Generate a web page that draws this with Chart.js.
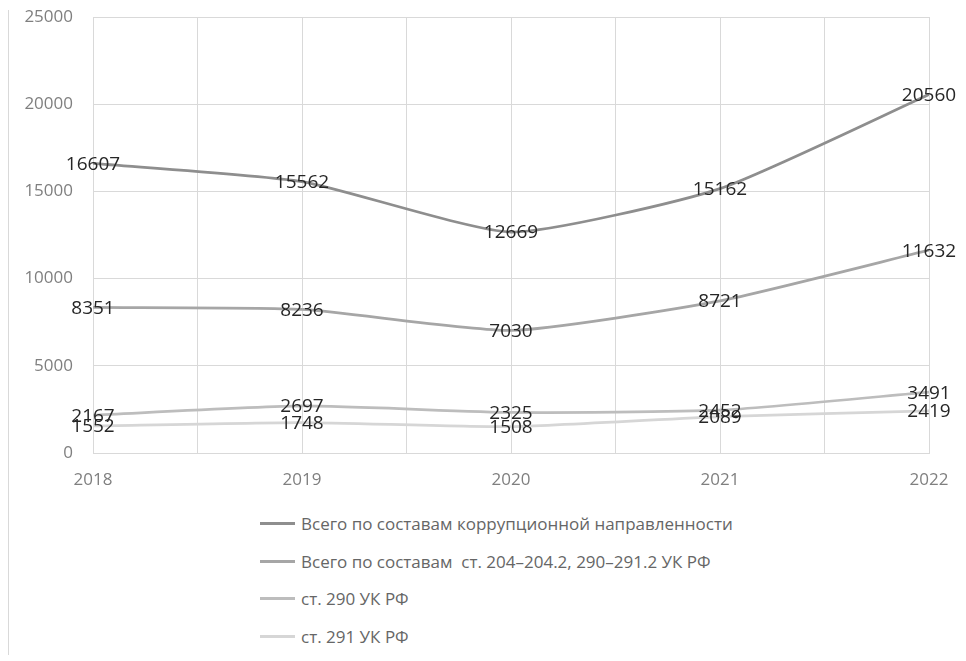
<!DOCTYPE html>
<html lang="ru">
<head>
<meta charset="utf-8">
<title>Преступления коррупционной направленности, 2018–2022</title>
<script src="https://cdn.jsdelivr.net/npm/chart.js@4/dist/chart.umd.min.js"></script>
<style>
    html, body {
        margin: 0;
        padding: 0;
        background: #ffffff;
    }
    .frame {
        position: relative;
        width: 966px;
        height: 661px;
        overflow: hidden;
    }
    .frame-edge {
        position: absolute;
        left: 8px;
        top: 10px;
        width: 1px;
        height: 645px;
        background: #d9d9d9;
    }
    .chart-box {
        position: absolute;
        left: 0;
        top: 0;
        width: 966px;
        height: 500px;
    }
    .legend {
        position: absolute;
        left: 260px;
        top: 505px;
        font-family: 'Open Sans', sans-serif;
        font-size: 17px;
        color: #666666;
    }
    .legend-row {
        display: flex;
        align-items: center;
        height: 37.5px;
        white-space: pre;
    }
    .legend-swatch {
        width: 35px;
        height: 3px;
        margin-right: 6px;
    }
</style>
</head>
<body>
<div class="frame">
    <div class="frame-edge"></div>
    <div class="chart-box"><canvas id="crimeChart"></canvas></div>
    <div class="legend" id="crimeLegend"></div>
</div>

<script>
// Years on the horizontal axis
const years = ['2018', '2019', '2020', '2021', '2022'];

// Registered crimes per year
const totalCorruption = [16607, 15562, 12669, 15162, 20560];
const totalArticles = [8351, 8236, 7030, 8721, 11632];
const article290 = [2167, 2697, 2325, 2452, 3491];
const article291 = [1552, 1748, 1508, 2089, 2419];

const seriesNames = [
    'Всего по составам коррупционной направленности',
    'Всего по составам  ст. 204–204.2, 290–291.2 УК РФ',
    'ст. 290 УК РФ',
    'ст. 291 УК РФ'
];
const seriesColors = ['#8e8e8e', '#a6a6a6', '#bdbdbd', '#d6d6d6'];
const seriesValues = [totalCorruption, totalArticles, article290, article291];

(function() {
    'use strict';

    const gridColor = '#d9d9d9';
    const tickFont = { family: "'Open Sans', sans-serif", size: 17 };

    // Value labels centred on each point, drawn above all lines
    const valueLabels = {
        id: 'valueLabels',
        afterDatasetsDraw(chart) {
            const ctx = chart.ctx;
            ctx.save();
            ctx.font = "19px 'Open Sans', sans-serif";
            ctx.fillStyle = '#262626';
            ctx.textAlign = 'center';
            ctx.textBaseline = 'middle';
            chart.data.datasets.forEach((ds, i) => {
                const meta = chart.getDatasetMeta(i);
                meta.data.forEach((pt, j) => {
                    ctx.fillText(String(ds.data[j].y), pt.x, pt.y + 1);
                });
            });
            ctx.restore();
        }
    };

    function buildDatasets() {
        return seriesValues.map((values, i) => ({
            label: seriesNames[i],
            data: values.map((v, j) => ({ x: j, y: v })),
            borderColor: seriesColors[i],
            backgroundColor: seriesColors[i],
            borderWidth: 2.75,
            pointRadius: 0,
            pointHoverRadius: 0,
            tension: 0.18,
            fill: false
        })).reverse();
    }

    function buildLegend() {
        const box = document.getElementById('crimeLegend');
        seriesNames.forEach((name, i) => {
            const row = document.createElement('div');
            row.className = 'legend-row';
            const swatch = document.createElement('span');
            swatch.className = 'legend-swatch';
            swatch.style.background = seriesColors[i];
            const text = document.createElement('span');
            text.textContent = name;
            row.appendChild(swatch);
            row.appendChild(text);
            box.appendChild(row);
        });
    }

    function initializeChart() {
        const ctx = document.getElementById('crimeChart');
        new Chart(ctx, {
            type: 'line',
            data: { datasets: buildDatasets() },
            plugins: [valueLabels],
            options: {
                responsive: true,
                maintainAspectRatio: false,
                animation: false,
                layout: {
                    padding: { top: 17, right: 37, bottom: 0, left: 0 }
                },
                plugins: {
                    legend: { display: false },
                    tooltip: { enabled: false }
                },
                scales: {
                    x: {
                        type: 'linear',
                        min: 0,
                        max: years.length - 1,
                        grid: { color: gridColor, lineWidth: 1, drawTicks: false },
                        border: { color: gridColor },
                        ticks: {
                            stepSize: 0.5,
                            autoSkip: false,
                            maxRotation: 0,
                            padding: 17,
                            color: '#7f7f7f',
                            font: tickFont,
                            callback: function(value) {
                                return Number.isInteger(value) ? years[value] : '';
                            }
                        },
                        afterFit: function(scale) {
                            scale.height = 47;
                            scale.paddingLeft = 0;
                            scale.paddingRight = 0;
                        }
                    },
                    y: {
                        min: 0,
                        max: 25000,
                        grid: { color: gridColor, lineWidth: 1, drawTicks: false },
                        border: { display: false },
                        ticks: {
                            stepSize: 5000,
                            padding: 20,
                            color: '#7f7f7f',
                            font: tickFont,
                            callback: function(value) {
                                return String(value);
                            }
                        },
                        afterFit: function(scale) {
                            scale.width = 93;
                            scale.paddingTop = 0;
                            scale.paddingBottom = 0;
                        }
                    }
                }
            }
        });
    }

    buildLegend();
    initializeChart();
})();
</script>
</body>
</html>
